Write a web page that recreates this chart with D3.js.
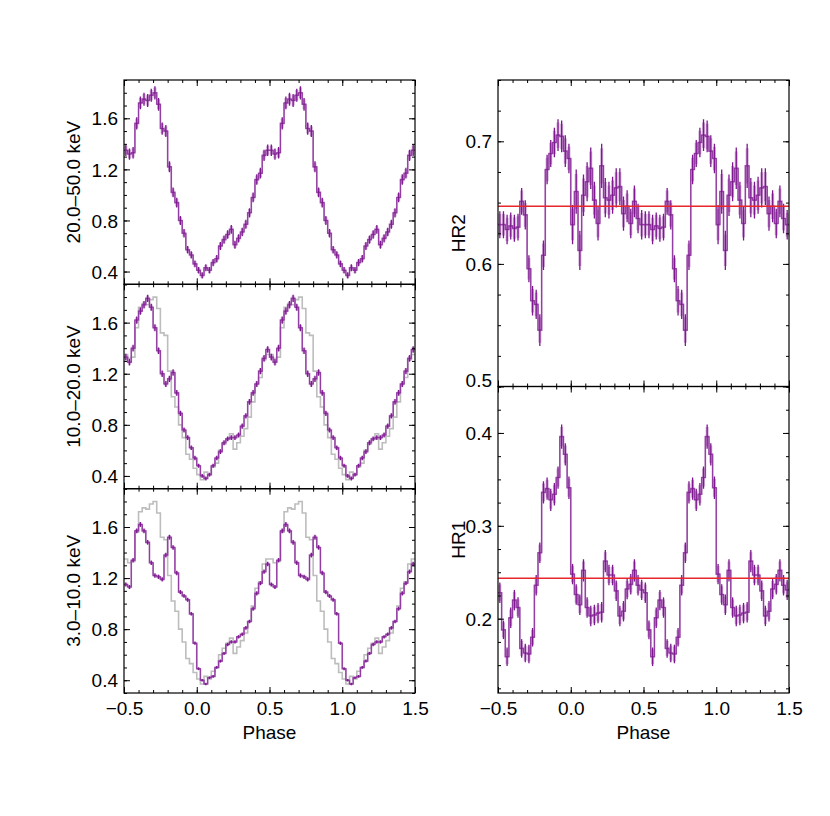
<!DOCTYPE html>
<html>
<head>
<meta charset="utf-8">
<script src="https://cdn.jsdelivr.net/npm/d3@7"></script>
<style>
body { margin: 0; background: #fff; }
</style>
</head>
<body>
<div id="chart"></div>
<script>
// folded profiles, 40 phase bins covering one cycle (phase 0.0 - 1.0)
var nBins = 40;

// 20.0-50.0 keV
var hard = [0.41, 0.37, 0.43, 0.41, 0.47, 0.50, 0.60, 0.65, 0.69, 0.73,
            0.61, 0.66, 0.71, 0.77, 0.86, 0.98, 1.12, 1.17, 1.31, 1.35,
            1.35, 1.32, 1.33, 1.56, 1.72, 1.75, 1.74, 1.78, 1.80, 1.71,
            1.52, 1.50, 1.22, 1.02, 0.94, 0.80, 0.70, 0.57, 0.53, 0.46];
var hardErr = [0.026, 0.025, 0.027, 0.026, 0.028, 0.029, 0.031, 0.032, 0.033, 0.034,
               0.031, 0.032, 0.033, 0.035, 0.036, 0.038, 0.041, 0.042, 0.044, 0.045,
               0.045, 0.044, 0.045, 0.048, 0.050, 0.051, 0.051, 0.051, 0.052, 0.050,
               0.048, 0.047, 0.043, 0.039, 0.038, 0.035, 0.033, 0.029, 0.028, 0.027];

// 10.0-20.0 keV
var mid = [0.48, 0.40, 0.38, 0.41, 0.48, 0.54, 0.59, 0.66, 0.69, 0.70,
           0.70, 0.72, 0.79, 0.87, 0.98, 1.05, 1.12, 1.22, 1.32, 1.39,
           1.33, 1.29, 1.40, 1.62, 1.69, 1.74, 1.79, 1.72, 1.56, 1.38,
           1.20, 1.12, 1.16, 1.21, 1.05, 0.89, 0.76, 0.70, 0.62, 0.54];
var midErr = [0.016, 0.015, 0.015, 0.015, 0.016, 0.017, 0.018, 0.019, 0.019, 0.019,
              0.019, 0.019, 0.020, 0.021, 0.022, 0.023, 0.024, 0.025, 0.026, 0.026,
              0.026, 0.025, 0.026, 0.028, 0.028, 0.029, 0.029, 0.028, 0.027, 0.026,
              0.025, 0.024, 0.024, 0.025, 0.023, 0.021, 0.020, 0.019, 0.018, 0.017];

// 3.0-10.0 keV
var soft = [0.49, 0.40, 0.37, 0.42, 0.43, 0.50, 0.55, 0.61, 0.68, 0.70,
            0.70, 0.74, 0.76, 0.81, 0.86, 0.96, 1.08, 1.16, 1.25, 1.31,
            1.15, 1.13, 1.34, 1.57, 1.62, 1.57, 1.48, 1.32, 1.22, 1.21,
            1.19, 1.38, 1.52, 1.44, 1.24, 1.09, 1.06, 1.03, 0.92, 0.69];
var softErr = [0.011, 0.010, 0.010, 0.010, 0.010, 0.011, 0.012, 0.012, 0.013, 0.013,
               0.013, 0.013, 0.013, 0.014, 0.014, 0.015, 0.016, 0.016, 0.017, 0.017,
               0.016, 0.016, 0.017, 0.019, 0.019, 0.019, 0.018, 0.017, 0.017, 0.017,
               0.016, 0.018, 0.019, 0.018, 0.017, 0.016, 0.015, 0.015, 0.014, 0.013];

// hardness ratios
var hr2 = [0.632, 0.659, 0.611, 0.656, 0.667, 0.678, 0.652, 0.633, 0.680, 0.654,
           0.652, 0.656, 0.662, 0.663, 0.641, 0.647, 0.633, 0.651, 0.637, 0.632,
           0.632, 0.632, 0.628, 0.631, 0.629, 0.630, 0.651, 0.640, 0.596, 0.570,
           0.567, 0.546, 0.607, 0.677, 0.690, 0.699, 0.705, 0.704, 0.692, 0.686];
var hr2Err = [0.016, 0.018, 0.016, 0.017, 0.016, 0.017, 0.015, 0.014, 0.018, 0.016,
              0.015, 0.015, 0.016, 0.015, 0.014, 0.013, 0.012, 0.013, 0.012, 0.012,
              0.011, 0.011, 0.012, 0.011, 0.011, 0.011, 0.011, 0.012, 0.011, 0.012,
              0.012, 0.013, 0.012, 0.012, 0.011, 0.012, 0.013, 0.013, 0.013, 0.012];
var hr1 = [0.248, 0.226, 0.215, 0.252, 0.212, 0.203, 0.204, 0.206, 0.207, 0.262,
           0.247, 0.247, 0.230, 0.203, 0.208, 0.232, 0.237, 0.252, 0.236, 0.231,
           0.228, 0.188, 0.159, 0.201, 0.220, 0.212, 0.168, 0.163, 0.162, 0.180,
           0.236, 0.271, 0.336, 0.340, 0.328, 0.334, 0.352, 0.396, 0.377, 0.341];
var hr1Err = [0.011, 0.011, 0.011, 0.012, 0.011, 0.011, 0.011, 0.011, 0.011, 0.012,
              0.011, 0.011, 0.011, 0.011, 0.011, 0.011, 0.011, 0.012, 0.011, 0.011,
              0.011, 0.010, 0.010, 0.011, 0.011, 0.011, 0.010, 0.010, 0.010, 0.010,
              0.011, 0.011, 0.012, 0.012, 0.012, 0.012, 0.012, 0.013, 0.012, 0.012];
var hr2Mean = 0.647,
    hr1Mean = 0.2435;

// axis ticks and labels
var phaseTicks = [-0.5, 0.0, 0.5, 1.0, 1.5];
var countTicks = [0.4, 0.8, 1.2, 1.6];
var hr2Ticks = [0.5, 0.6, 0.7];
var hr1Ticks = [0.2, 0.3, 0.4];
var bandLabels = ["20.0\u201350.0 keV", "10.0\u201320.0 keV", "3.0\u201310.0 keV"];
var hrLabels = ["HR2", "HR1"];

var purple = "#7e1790",
    purpleLight = "#a966b6",
    grey = "#bdbdbd",
    red = "#e8262b",
    fontFamily = "'Liberation Sans', Arial, Helvetica, sans-serif";

var svg = d3.select("#chart").append("svg")
    .attr("width", 830)
    .attr("height", 816)
    .style("background", "#fff");

// panel layout
var panels = [
    {left: 124, right: 415, top: 80, bottom: 284.3, yDomain: [0.3, 1.9], data: hard, err: hardErr,
     ticks: countTicks, minorStep: 0.1, label: bandLabels[0], labelX: 73, xLabels: false},
    {left: 124, right: 415, top: 284.3, bottom: 488.7, yDomain: [0.3, 1.9], data: mid, err: midErr,
     ref: hard, ticks: countTicks, minorStep: 0.1, label: bandLabels[1], labelX: 73, xLabels: false},
    {left: 124, right: 415, top: 488.7, bottom: 693, yDomain: [0.3, 1.9], data: soft, err: softErr,
     ref: hard, ticks: countTicks, minorStep: 0.1, label: bandLabels[2], labelX: 73, xLabels: true},
    {left: 498, right: 789, top: 80, bottom: 386.5, yDomain: [0.5, 0.75], data: hr2, err: hr2Err,
     mean: hr2Mean, ticks: hr2Ticks, minorStep: 0.025, label: hrLabels[0], labelX: 458, xLabels: false},
    {left: 498, right: 789, top: 386.5, bottom: 693, yDomain: [0.12, 0.45], data: hr1, err: hr1Err,
     mean: hr1Mean, ticks: hr1Ticks, minorStep: 0.025, label: hrLabels[1], labelX: 458, xLabels: true}
];

// repeat the folded profile over phase -0.5 .. 1.5
function unfold(values, errs) {
    var out = [];
    [-1, 0, 1].forEach(function(c) {
        values.forEach(function(v, i) {
            var x0 = c + i / nBins;
            if (x0 > -0.5 - 1e-9 && x0 < 1.5 - 1e-9) {
                out.push({x0: x0, x1: x0 + 1 / nBins, v: v, e: errs ? errs[i] : 0});
            }
        });
    });
    return out;
}

function stepPoints(bins) {
    var pts = bins.map(function(b) { return [b.x0, b.v]; });
    var last = bins[bins.length - 1];
    pts.push([last.x1, last.v]);
    return pts;
}

function minorValues(domain, step) {
    var out = [];
    var start = Math.ceil(domain[0] / step - 1e-6);
    var stop = Math.floor(domain[1] / step + 1e-6);
    for (var k = start; k <= stop; k++) out.push(+(k * step).toFixed(4));
    return out;
}

function styleAxis(sel) {
    sel.select(".domain").remove();
    sel.selectAll("line").attr("stroke", "#000").attr("stroke-width", 1);
    sel.selectAll("text")
        .attr("fill", "#000")
        .style("font-family", fontFamily)
        .style("font-size", "19px");
}

function drawPanel(p, idx) {
    var x = d3.scaleLinear().domain([-0.5, 1.5]).range([p.left, p.right]);
    var y = d3.scaleLinear().domain(p.yDomain).range([p.bottom, p.top]);
    var g = svg.append("g").attr("class", "panel");

    var clipId = "clip-" + idx;
    g.append("clipPath").attr("id", clipId)
        .append("rect")
        .attr("x", p.left).attr("y", p.top)
        .attr("width", p.right - p.left).attr("height", p.bottom - p.top);

    var plot = g.append("g").attr("clip-path", "url(#" + clipId + ")");

    var line = d3.line()
        .x(function(d) { return x(d[0]); })
        .y(function(d) { return y(d[1]); })
        .curve(d3.curveStepAfter);

    // grey reference profile (20-50 keV)
    if (p.ref) {
        plot.append("path")
            .datum(stepPoints(unfold(p.ref)))
            .attr("d", line)
            .attr("fill", "none")
            .attr("stroke", grey)
            .attr("stroke-width", 1.6);
    }

    var bins = unfold(p.data, p.err);

    // soft band behind the error bars
    plot.selectAll("line.errband")
        .data(bins).enter().append("line")
        .attr("class", "errband")
        .attr("x1", function(d) { return x((d.x0 + d.x1) / 2); })
        .attr("x2", function(d) { return x((d.x0 + d.x1) / 2); })
        .attr("y1", function(d) { return y(d.v - d.e * 0.8); })
        .attr("y2", function(d) { return y(d.v + d.e * 0.8); })
        .attr("stroke", purpleLight)
        .attr("stroke-opacity", 0.55)
        .attr("stroke-width", 3);

    plot.append("path")
        .datum(stepPoints(bins))
        .attr("d", line)
        .attr("fill", "none")
        .attr("stroke", purpleLight)
        .attr("stroke-width", 1.6);

    plot.append("path")
        .datum(stepPoints(bins))
        .attr("d", line)
        .attr("fill", "none")
        .attr("stroke", purple)
        .attr("stroke-opacity", 0.7)
        .attr("stroke-width", 0.8);

    plot.selectAll("line.err")
        .data(bins).enter().append("line")
        .attr("class", "err")
        .attr("x1", function(d) { return x((d.x0 + d.x1) / 2); })
        .attr("x2", function(d) { return x((d.x0 + d.x1) / 2); })
        .attr("y1", function(d) { return y(d.v - d.e); })
        .attr("y2", function(d) { return y(d.v + d.e); })
        .attr("stroke", purple)
        .attr("stroke-width", 1.3);

    // mean hardness ratio
    if (p.mean != null) {
        plot.append("line")
            .attr("x1", p.left).attr("x2", p.right)
            .attr("y1", y(p.mean)).attr("y2", y(p.mean))
            .attr("stroke", red)
            .attr("stroke-width", 1.5);
    }

    // frame
    g.append("rect")
        .attr("x", p.left).attr("y", p.top)
        .attr("width", p.right - p.left).attr("height", p.bottom - p.top)
        .attr("fill", "none")
        .attr("stroke", "#000")
        .attr("stroke-width", 1.2);

    var xMinor = minorValues([-0.5, 1.5], 0.1);
    var yMinor = minorValues(p.yDomain, p.minorStep);
    var fmtX = d3.format(".1f");
    var fmtY = d3.format(".1f");

    // inward ticks on all four sides
    g.append("g").attr("transform", "translate(0," + p.bottom + ")")
        .call(d3.axisBottom(x).tickValues(xMinor).tickSize(-3).tickFormat(""))
        .call(styleAxis);
    g.append("g").attr("transform", "translate(0," + p.bottom + ")")
        .call(d3.axisBottom(x).tickValues(phaseTicks).tickSize(-6).tickPadding(9)
            .tickFormat(p.xLabels ? fmtX : ""))
        .call(styleAxis);
    g.append("g").attr("transform", "translate(0," + p.top + ")")
        .call(d3.axisTop(x).tickValues(xMinor).tickSize(-3).tickFormat(""))
        .call(styleAxis);
    g.append("g").attr("transform", "translate(0," + p.top + ")")
        .call(d3.axisTop(x).tickValues(phaseTicks).tickSize(-6).tickFormat(""))
        .call(styleAxis);

    g.append("g").attr("transform", "translate(" + p.left + ",0)")
        .call(d3.axisLeft(y).tickValues(yMinor).tickSize(-3).tickFormat(""))
        .call(styleAxis);
    var yAx = g.append("g").attr("transform", "translate(" + p.left + ",0)")
        .call(d3.axisLeft(y).tickValues(p.ticks).tickSize(-6).tickPadding(6).tickFormat(fmtY))
        .call(styleAxis);
    // bottom-most label sits a little above its tick
    yAx.selectAll(".tick text")
        .attr("dy", function(d) { return Math.abs(d - p.yDomain[0]) < 1e-6 ? "0.0em" : "0.35em"; });
    g.append("g").attr("transform", "translate(" + p.right + ",0)")
        .call(d3.axisRight(y).tickValues(yMinor).tickSize(-3).tickFormat(""))
        .call(styleAxis);
    g.append("g").attr("transform", "translate(" + p.right + ",0)")
        .call(d3.axisRight(y).tickValues(p.ticks).tickSize(-6).tickFormat(""))
        .call(styleAxis);

    // y title
    g.append("text")
        .attr("transform", "translate(" + p.labelX + "," + ((p.top + p.bottom) / 2) + ") rotate(-90)")
        .attr("text-anchor", "middle")
        .attr("dy", "0.35em")
        .style("font-family", fontFamily)
        .style("font-size", "19px")
        .text(p.label);

    if (p.xLabels) {
        g.append("text")
            .attr("x", (p.left + p.right) / 2)
            .attr("y", p.bottom + 46)
            .attr("text-anchor", "middle")
            .style("font-family", fontFamily)
            .style("font-size", "19px")
            .text("Phase");
    }
}

panels.forEach(drawPanel);
</script>
</body>
</html>
